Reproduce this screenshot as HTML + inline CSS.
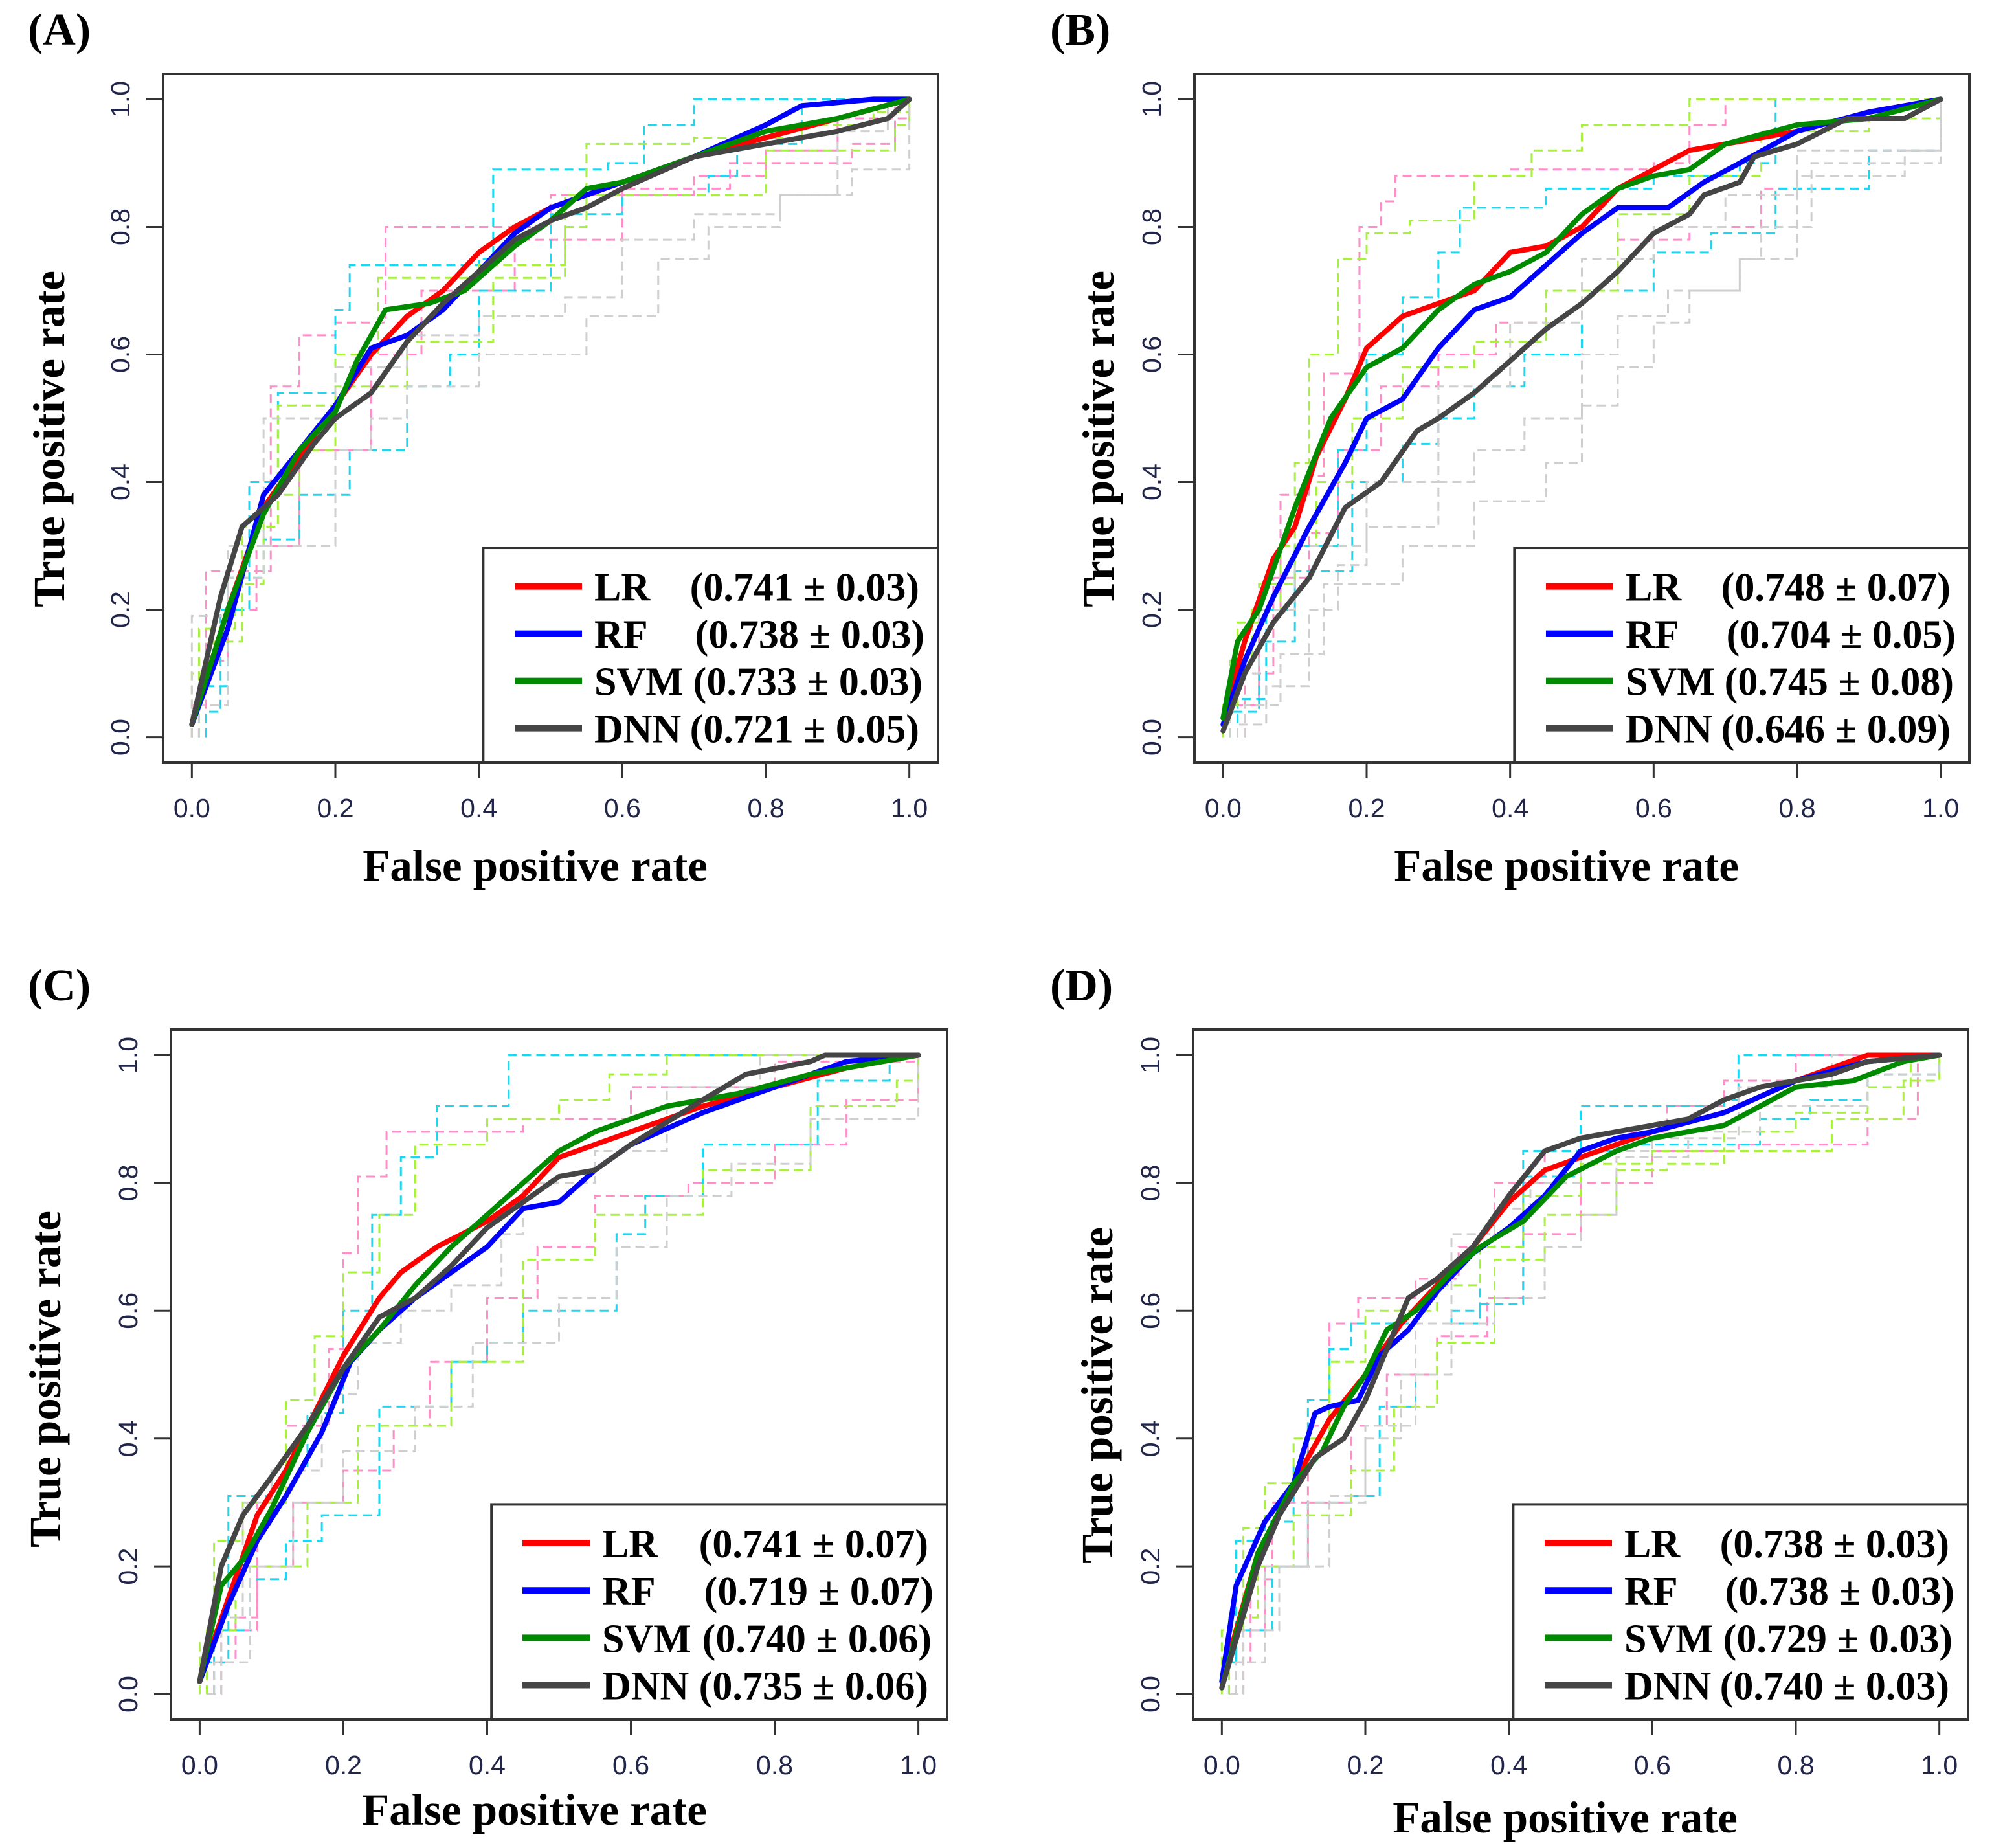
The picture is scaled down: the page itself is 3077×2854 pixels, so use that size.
<!DOCTYPE html>
<html><head><meta charset="utf-8"><style>
html,body{margin:0;padding:0;background:#fff}
svg{display:block}
.tk{font-family:"Liberation Sans",sans-serif;font-size:41px;fill:#22254a}
.ax{font-family:"Liberation Serif",serif;font-weight:bold;font-size:69px;fill:#000}
.lg{font-family:"Liberation Serif",serif;font-weight:bold;font-size:62px;fill:#000}
.pl{font-family:"Liberation Serif",serif;font-weight:bold;font-size:70px;fill:#000}
</style></head><body>
<svg id="fig" width="3077" height="2854" viewBox="0 0 3077 2854" xmlns="http://www.w3.org/2000/svg"></svg>
<script>
const tickValues=[0,0.2,0.4,0.6,0.8,1.0];
const tickLabels=["0.0","0.2","0.4","0.6","0.8","1.0"];
const modelNames=["LR","RF","SVM","DNN"];
const panelLabels=["(A)","(B)","(C)","(D)"];
const aucA=["(0.741 \u00b1 0.03)","(0.738 \u00b1 0.03)","(0.733 \u00b1 0.03)","(0.721 \u00b1 0.05)"];
const aucB=["(0.748 \u00b1 0.07)","(0.704 \u00b1 0.05)","(0.745 \u00b1 0.08)","(0.646 \u00b1 0.09)"];
const aucC=["(0.741 \u00b1 0.07)","(0.719 \u00b1 0.07)","(0.740 \u00b1 0.06)","(0.735 \u00b1 0.06)"];
const aucD=["(0.738 \u00b1 0.03)","(0.738 \u00b1 0.03)","(0.729 \u00b1 0.03)","(0.740 \u00b1 0.03)"];

const A_LR=[[0,0.02],[0.05,0.2],[0.1,0.36],[0.15,0.44],[0.2,0.52],[0.25,0.6],[0.3,0.66],[0.35,0.7],[0.4,0.76],[0.45,0.8],[0.5,0.83],[0.6,0.87],[0.7,0.91],[0.8,0.94],[0.9,0.97],[1,1]];
const A_RF=[[0,0.02],[0.05,0.17],[0.1,0.38],[0.15,0.45],[0.2,0.52],[0.25,0.61],[0.3,0.63],[0.35,0.67],[0.4,0.73],[0.45,0.79],[0.5,0.83],[0.6,0.87],[0.7,0.91],[0.8,0.96],[0.85,0.99],[0.95,1],[1,1]];
const A_SVM=[[0,0.02],[0.05,0.2],[0.1,0.35],[0.15,0.45],[0.2,0.51],[0.23,0.59],[0.27,0.67],[0.33,0.68],[0.38,0.7],[0.45,0.77],[0.5,0.81],[0.55,0.86],[0.6,0.87],[0.7,0.91],[0.8,0.95],[0.9,0.97],[1,1]];
const A_DNN=[[0,0.02],[0.04,0.22],[0.07,0.33],[0.12,0.38],[0.17,0.46],[0.2,0.5],[0.25,0.54],[0.3,0.62],[0.35,0.68],[0.4,0.73],[0.45,0.78],[0.5,0.81],[0.55,0.83],[0.6,0.86],[0.7,0.91],[0.8,0.93],[0.9,0.95],[0.97,0.97],[1,1]];
const B_LR=[[0,0.03],[0.03,0.15],[0.07,0.28],[0.1,0.33],[0.13,0.44],[0.17,0.53],[0.2,0.61],[0.25,0.66],[0.3,0.68],[0.35,0.7],[0.4,0.76],[0.45,0.77],[0.5,0.8],[0.55,0.86],[0.6,0.89],[0.65,0.92],[0.7,0.93],[0.8,0.95],[0.9,0.98],[1,1]];
const B_RF=[[0,0.02],[0.03,0.12],[0.07,0.22],[0.12,0.33],[0.17,0.43],[0.2,0.5],[0.25,0.53],[0.3,0.61],[0.35,0.67],[0.4,0.69],[0.45,0.74],[0.5,0.79],[0.55,0.83],[0.62,0.83],[0.67,0.87],[0.72,0.9],[0.8,0.95],[0.9,0.98],[1,1]];
const B_SVM=[[0,0.03],[0.02,0.15],[0.05,0.2],[0.1,0.36],[0.15,0.5],[0.2,0.58],[0.25,0.61],[0.3,0.67],[0.35,0.71],[0.4,0.73],[0.45,0.76],[0.5,0.82],[0.55,0.86],[0.6,0.88],[0.65,0.89],[0.7,0.93],[0.8,0.96],[0.9,0.97],[1,1]];
const B_DNN=[[0,0.01],[0.03,0.1],[0.07,0.18],[0.12,0.25],[0.17,0.36],[0.22,0.4],[0.27,0.48],[0.3,0.5],[0.35,0.54],[0.4,0.59],[0.45,0.64],[0.5,0.68],[0.55,0.73],[0.6,0.79],[0.65,0.82],[0.67,0.85],[0.72,0.87],[0.74,0.91],[0.8,0.93],[0.87,0.97],[0.95,0.97],[1,1]];
const C_LR=[[0,0.02],[0.04,0.15],[0.08,0.28],[0.12,0.35],[0.16,0.44],[0.2,0.53],[0.25,0.62],[0.28,0.66],[0.33,0.7],[0.4,0.74],[0.45,0.78],[0.5,0.84],[0.55,0.86],[0.6,0.88],[0.7,0.92],[0.8,0.95],[0.9,0.98],[1,1]];
const C_RF=[[0,0.02],[0.04,0.14],[0.08,0.24],[0.12,0.31],[0.17,0.41],[0.21,0.52],[0.25,0.57],[0.3,0.62],[0.35,0.66],[0.4,0.7],[0.45,0.76],[0.5,0.77],[0.55,0.82],[0.6,0.86],[0.7,0.91],[0.8,0.95],[0.9,0.99],[1,1]];
const C_SVM=[[0,0.02],[0.03,0.17],[0.06,0.21],[0.1,0.29],[0.15,0.41],[0.2,0.51],[0.25,0.57],[0.3,0.64],[0.35,0.7],[0.4,0.75],[0.45,0.8],[0.5,0.85],[0.55,0.88],[0.6,0.9],[0.65,0.92],[0.75,0.94],[0.85,0.97],[1,1]];
const C_DNN=[[0,0.02],[0.03,0.2],[0.06,0.28],[0.1,0.34],[0.15,0.42],[0.2,0.51],[0.25,0.59],[0.3,0.62],[0.35,0.67],[0.4,0.73],[0.45,0.77],[0.5,0.81],[0.55,0.82],[0.6,0.86],[0.7,0.93],[0.76,0.97],[0.85,0.99],[0.87,1],[1,1]];
const D_LR=[[0,0.02],[0.05,0.22],[0.1,0.33],[0.15,0.43],[0.2,0.5],[0.25,0.58],[0.3,0.64],[0.35,0.7],[0.4,0.77],[0.45,0.82],[0.5,0.84],[0.55,0.86],[0.6,0.88],[0.7,0.91],[0.8,0.96],[0.9,1],[1,1]];
const D_RF=[[0,0.02],[0.02,0.17],[0.06,0.27],[0.1,0.33],[0.13,0.44],[0.15,0.45],[0.19,0.46],[0.22,0.53],[0.26,0.57],[0.3,0.63],[0.35,0.69],[0.4,0.73],[0.45,0.78],[0.5,0.85],[0.55,0.87],[0.6,0.88],[0.7,0.91],[0.8,0.96],[0.9,0.99],[1,1]];
const D_SVM=[[0,0.01],[0.05,0.22],[0.1,0.33],[0.14,0.38],[0.17,0.45],[0.2,0.5],[0.23,0.57],[0.27,0.6],[0.32,0.66],[0.36,0.7],[0.42,0.74],[0.48,0.81],[0.55,0.85],[0.6,0.87],[0.7,0.89],[0.75,0.92],[0.8,0.95],[0.88,0.96],[0.95,0.99],[1,1]];
const D_DNN=[[0,0.01],[0.05,0.2],[0.08,0.28],[0.13,0.37],[0.17,0.4],[0.2,0.46],[0.23,0.54],[0.26,0.62],[0.3,0.65],[0.35,0.7],[0.4,0.78],[0.45,0.85],[0.5,0.87],[0.6,0.89],[0.65,0.9],[0.7,0.93],[0.75,0.95],[0.85,0.97],[0.9,0.99],[1,1]];

const A_folds=[
[0,[[0,0.05],[0.02,0.26],[0.06,0.26],[0.11,0.55],[0.15,0.63],[0.2,0.65],[0.27,0.8],[0.35,0.8],[0.5,0.85],[0.7,0.88],[0.8,0.92],[0.9,0.97],[1,1]]],
[0,[[0.02,0.12],[0.05,0.2],[0.09,0.3],[0.15,0.45],[0.25,0.6],[0.32,0.7],[0.45,0.78],[0.6,0.86],[0.75,0.9],[0.92,0.93],[0.98,1]]],
[1,[[0.02,0.04],[0.04,0.2],[0.08,0.4],[0.12,0.54],[0.2,0.67],[0.22,0.74],[0.4,0.75],[0.42,0.89],[0.58,0.9],[0.63,0.96],[0.7,1],[1,1]]],
[1,[[0.01,0.08],[0.05,0.25],[0.1,0.31],[0.15,0.38],[0.22,0.45],[0.3,0.55],[0.36,0.6],[0.4,0.7],[0.5,0.82],[0.6,0.85],[0.72,0.88],[0.76,0.93],[0.85,1]]],
[2,[[0,0.1],[0.03,0.15],[0.07,0.33],[0.12,0.52],[0.2,0.6],[0.26,0.72],[0.4,0.74],[0.52,0.8],[0.55,0.93],[0.7,0.94],[0.85,0.96],[0.95,0.98],[1,1]]],
[2,[[0.01,0.17],[0.06,0.24],[0.1,0.38],[0.15,0.45],[0.2,0.55],[0.3,0.62],[0.42,0.72],[0.52,0.85],[0.7,0.85],[0.8,0.92],[0.98,0.96],[1,1]]],
[3,[[0,0.19],[0.05,0.3],[0.1,0.5],[0.2,0.58],[0.3,0.63],[0.4,0.66],[0.52,0.69],[0.6,0.78],[0.7,0.82],[0.82,0.85],[0.92,0.89],[1,1]]],
[3,[[0.01,0.05],[0.05,0.25],[0.1,0.3],[0.2,0.45],[0.25,0.5],[0.3,0.55],[0.4,0.6],[0.55,0.66],[0.65,0.75],[0.72,0.8],[0.82,0.85],[0.9,0.95],[0.97,1]]]];
const B_folds=[
[0,[[0.02,0.05],[0.05,0.2],[0.08,0.38],[0.12,0.41],[0.14,0.57],[0.19,0.8],[0.22,0.84],[0.24,0.88],[0.4,0.89],[0.6,0.9],[0.65,0.96],[0.7,1],[1,1]]],
[0,[[0.03,0.1],[0.07,0.25],[0.12,0.32],[0.16,0.45],[0.22,0.55],[0.3,0.6],[0.38,0.65],[0.45,0.7],[0.55,0.78],[0.65,0.8],[0.75,0.86],[0.9,0.92],[1,1]]],
[1,[[0.02,0.06],[0.06,0.2],[0.1,0.3],[0.16,0.45],[0.2,0.6],[0.25,0.69],[0.3,0.76],[0.33,0.83],[0.45,0.86],[0.6,0.88],[0.72,0.9],[0.77,1],[1,1]]],
[1,[[0.01,0.04],[0.05,0.15],[0.1,0.26],[0.18,0.4],[0.25,0.46],[0.3,0.5],[0.35,0.55],[0.42,0.6],[0.5,0.7],[0.6,0.76],[0.68,0.79],[0.77,0.86],[0.9,0.92],[1,1]]],
[2,[[0,0.05],[0.02,0.18],[0.05,0.24],[0.1,0.43],[0.12,0.6],[0.16,0.75],[0.2,0.79],[0.26,0.81],[0.34,0.81],[0.35,0.88],[0.43,0.92],[0.5,0.96],[0.65,1],[1,1]]],
[2,[[0.01,0.12],[0.04,0.2],[0.08,0.3],[0.13,0.4],[0.18,0.5],[0.25,0.58],[0.35,0.62],[0.45,0.7],[0.55,0.82],[0.65,0.88],[0.75,0.95],[0.9,0.97],[1,1]]],
[3,[[0.02,0.02],[0.06,0.08],[0.12,0.2],[0.16,0.27],[0.2,0.33],[0.3,0.4],[0.35,0.45],[0.42,0.5],[0.5,0.6],[0.55,0.66],[0.62,0.7],[0.72,0.75],[0.8,0.88],[0.95,0.92],[1,1]]],
[3,[[0.03,0.05],[0.08,0.13],[0.14,0.24],[0.25,0.3],[0.35,0.37],[0.45,0.43],[0.5,0.52],[0.55,0.58],[0.6,0.65],[0.65,0.7],[0.72,0.75],[0.75,0.8],[0.82,0.9],[1,1]]],
[3,[[0.01,0.1],[0.05,0.2],[0.1,0.3],[0.2,0.4],[0.3,0.55],[0.4,0.65],[0.5,0.75],[0.6,0.8],[0.7,0.85],[0.8,0.92],[1,1]]]];
const C_folds=[
[0,[[0.02,0.05],[0.05,0.12],[0.08,0.3],[0.12,0.42],[0.18,0.54],[0.2,0.69],[0.22,0.81],[0.26,0.88],[0.35,0.88],[0.45,0.9],[0.6,0.95],[0.8,0.99],[1,1]]],
[0,[[0.03,0.1],[0.08,0.2],[0.13,0.3],[0.2,0.35],[0.27,0.42],[0.32,0.52],[0.4,0.62],[0.47,0.7],[0.55,0.78],[0.68,0.8],[0.8,0.86],[0.9,0.93],[1,1]]],
[1,[[0.01,0.05],[0.04,0.31],[0.1,0.35],[0.15,0.44],[0.2,0.6],[0.24,0.75],[0.28,0.84],[0.33,0.92],[0.43,1],[1,1]]],
[1,[[0.02,0.1],[0.07,0.18],[0.12,0.24],[0.17,0.28],[0.25,0.45],[0.35,0.52],[0.4,0.55],[0.45,0.6],[0.53,0.6],[0.58,0.72],[0.62,0.78],[0.7,0.86],[0.82,0.86],[0.86,0.96],[0.96,1],[1,1]]],
[2,[[0,0.08],[0.02,0.24],[0.06,0.3],[0.12,0.46],[0.16,0.56],[0.2,0.66],[0.25,0.75],[0.3,0.86],[0.4,0.9],[0.5,0.93],[0.57,0.97],[0.65,1],[1,1]]],
[2,[[0.01,0.1],[0.05,0.2],[0.1,0.2],[0.15,0.3],[0.22,0.42],[0.28,0.42],[0.35,0.52],[0.45,0.68],[0.55,0.75],[0.7,0.82],[0.85,0.92],[0.97,0.96],[1,1]]],
[3,[[0.01,0],[0.03,0.12],[0.06,0.3],[0.1,0.35],[0.17,0.47],[0.22,0.55],[0.28,0.6],[0.35,0.64],[0.42,0.72],[0.45,0.8],[0.55,0.85],[0.65,0.95],[0.78,1],[1,1]]],
[3,[[0.02,0.05],[0.07,0.2],[0.13,0.3],[0.2,0.38],[0.3,0.45],[0.38,0.55],[0.5,0.62],[0.58,0.7],[0.65,0.78],[0.74,0.83],[0.85,0.9],[1,1]]]];
const D_folds=[
[0,[[0.02,0.05],[0.04,0.18],[0.07,0.3],[0.12,0.42],[0.15,0.58],[0.19,0.62],[0.27,0.65],[0.33,0.7],[0.38,0.8],[0.45,0.85],[0.55,0.88],[0.62,0.92],[0.7,0.96],[0.8,1],[1,1]]],
[0,[[0.03,0.1],[0.06,0.2],[0.12,0.3],[0.18,0.42],[0.23,0.5],[0.3,0.56],[0.37,0.62],[0.42,0.72],[0.5,0.8],[0.6,0.85],[0.72,0.86],[0.82,0.86],[0.9,0.9],[0.97,1],[1,1]]],
[1,[[0.01,0.05],[0.02,0.24],[0.06,0.27],[0.1,0.36],[0.12,0.46],[0.15,0.54],[0.18,0.58],[0.36,0.61],[0.42,0.81],[0.5,0.92],[0.7,0.93],[0.72,1],[1,1]]],
[1,[[0.02,0.1],[0.07,0.2],[0.12,0.3],[0.18,0.31],[0.22,0.45],[0.27,0.5],[0.32,0.6],[0.36,0.7],[0.42,0.85],[0.55,0.86],[0.65,0.86],[0.75,0.9],[0.82,0.93],[0.9,0.97],[1,1]]],
[2,[[0,0.1],[0.03,0.26],[0.06,0.33],[0.1,0.4],[0.15,0.52],[0.2,0.6],[0.3,0.64],[0.36,0.7],[0.42,0.78],[0.5,0.83],[0.6,0.85],[0.7,0.88],[0.8,0.91],[0.9,0.95],[0.96,1],[1,1]]],
[2,[[0.01,0.12],[0.05,0.2],[0.1,0.28],[0.18,0.35],[0.24,0.45],[0.3,0.55],[0.38,0.68],[0.45,0.75],[0.55,0.82],[0.62,0.83],[0.7,0.85],[0.85,0.9],[0.95,0.96],[1,1]]],
[3,[[0.01,0],[0.03,0.1],[0.08,0.2],[0.15,0.31],[0.2,0.42],[0.27,0.58],[0.32,0.72],[0.38,0.76],[0.43,0.8],[0.5,0.85],[0.6,0.87],[0.72,0.95],[0.85,1],[1,1]]],
[3,[[0.02,0.05],[0.06,0.2],[0.12,0.3],[0.2,0.4],[0.25,0.5],[0.32,0.58],[0.38,0.62],[0.45,0.7],[0.5,0.75],[0.55,0.84],[0.65,0.88],[0.75,0.92],[0.9,0.97],[1,1]]]];

const NS="http://www.w3.org/2000/svg";
const svg=document.getElementById('fig');
const mainColors=["#ff0000","#0000ff","#008a00","#454545"];
const foldColors=["#ff8ec8","#1fd6f0","#a8f040","#cfcfcf"];
const valEnd=[29,21,24,29];
function mk(tag,attrs,parent){const e=document.createElementNS(NS,tag);for(const k in attrs)e.setAttribute(k,attrs[k]);(parent||svg).appendChild(e);return e;}

const panels=[
 {L:252,T:114,W:1197,H:1064,curves:[A_LR,A_RF,A_SVM,A_DNN],folds:A_folds,auc:aucA,lab:[43,69],ylOff:153,ylDy:0,xlDx:0,xlDy:0},
 {L:1845,T:114,W:1197,H:1064,curves:[B_LR,B_RF,B_SVM,B_DNN],folds:B_folds,auc:aucB,lab:[1622,69],ylOff:125,ylDy:0,xlDx:0,xlDy:0},
 {L:264,T:1590,W:1199,H:1066,curves:[C_LR,C_RF,C_SVM,C_DNN],folds:C_folds,auc:aucC,lab:[43,1545],ylOff:171,ylDy:-25,xlDx:-14,xlDy:-20},
 {L:1843,T:1590,W:1197,H:1066,curves:[D_LR,D_RF,D_SVM,D_DNN],folds:D_folds,auc:aucD,lab:[1622,1545],ylOff:125,ylDy:0,xlDx:0,xlDy:-8}];

panels.forEach((p,pi)=>{
 const g=mk('g',{});
 
 
 const pad=0.04/1.08;
 const x0=p.L+p.W*pad, x1=p.L+p.W*(1-pad), y0=p.T+p.H*(1-pad), y1=p.T+p.H*pad;
 const sx=v=>x0+v*(x1-x0), sy=v=>y0-v*(y0-y1);
 const t=mk('text',{x:p.lab[0],y:p.lab[1],class:'pl'},g);t.textContent=panelLabels[pi];
 
 
 p.folds.forEach(f=>{
  const pts=f[1];let d='M'+sx(pts[0][0])+','+sy(0)+' L'+sx(pts[0][0])+','+sy(pts[0][1]);
  for(let i=1;i<pts.length;i++){d+=' L'+sx(pts[i][0])+','+sy(pts[i-1][1])+' L'+sx(pts[i][0])+','+sy(pts[i][1]);}
  const e=mk('path',{d:d,fill:'none',stroke:foldColors[f[0]],'stroke-width':3,'stroke-dasharray':'14 8'},g);
  
  
 });
 p.curves.forEach((c,ci)=>{
  const d=c.map((q,i)=>(i?'L':'M')+sx(q[0])+','+sy(q[1])).join(' ');
  const e=mk('path',{d:d,fill:'none',stroke:mainColors[ci],'stroke-width':8,'stroke-linejoin':'round','stroke-linecap':'round'},g);
  
  
 });
 const b=mk('rect',{x:p.L,y:p.T,width:p.W,height:p.H,fill:'none',stroke:'#333','stroke-width':4},g);
 
 
 tickValues.forEach((v,i)=>{
  mk('line',{x1:sx(v),x2:sx(v),y1:p.T+p.H,y2:p.T+p.H+24,stroke:'#333','stroke-width':3},g);
  const xt=mk('text',{x:sx(v),y:p.T+p.H+84,class:'tk','text-anchor':'middle'},g);xt.textContent=tickLabels[i];
  
  
  mk('line',{x1:p.L-26,x2:p.L,y1:sy(v),y2:sy(v),stroke:'#333','stroke-width':3},g);
  const yx=p.L-52;
  const yt=mk('text',{x:yx,y:sy(v),class:'tk','text-anchor':'middle',transform:'rotate(-90 '+yx+' '+sy(v)+')'},g);yt.textContent=tickLabels[i];
  
  
 });
 const xl=mk('text',{x:p.L+p.W*0.48+p.xlDx,y:p.T+p.H+182+p.xlDy,class:'ax','text-anchor':'middle'},g);xl.textContent='False positive rate';
 
 
 const yc=p.T+p.H*0.53+p.ylDy, ylx=p.L-p.ylOff;
 const yl=mk('text',{x:ylx,y:yc,class:'ax','text-anchor':'middle',transform:'rotate(-90 '+ylx+' '+yc+')'},g);yl.textContent='True positive rate';
 
 
 const lgL=p.L+p.W*0.413, lgT=p.T+p.H*0.688;
 const lg=mk('rect',{x:lgL,y:lgT,width:p.L+p.W-lgL,height:p.T+p.H-lgT,fill:'#fff',stroke:'#333','stroke-width':4},g);
 
 
 modelNames.forEach((n,ci)=>{
  const cy=p.T+p.H*0.744+ci*p.H*0.0686;
  const ln=mk('line',{x1:p.L+543,x2:p.L+647,y1:cy,y2:cy,stroke:mainColors[ci],'stroke-width':10},g);
  
  
  const nt=mk('text',{x:p.L+666,y:cy+22,class:'lg'},g);nt.textContent=n;
  
  
  const vt=mk('text',{x:p.L+p.W-valEnd[ci],y:cy+22,class:'lg','text-anchor':'end'},g);vt.textContent=p.auc[ci];
  
  
 });
});
</script>
</body></html>
